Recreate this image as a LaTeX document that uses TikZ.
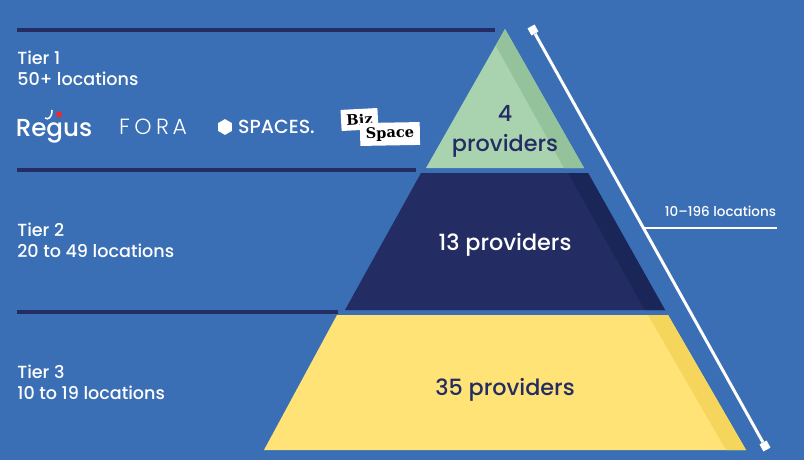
\documentclass[tikz,border=0pt]{standalone}
\usepackage{fontspec}
\usetikzlibrary{shapes.geometric}
\setmainfont{Poppins Medium}
\newfontfamily\forafont{Poppins Light}
\newfontfamily\bizfont{DejaVu Serif}
\definecolor{bluebg}{HTML}{3A6EB5}
\definecolor{navyband}{HTML}{232C63}
\definecolor{navyshade}{HTML}{1A2558}
\definecolor{greenband}{HTML}{A9D3AE}
\definecolor{greenshade}{HTML}{93C29B}
\definecolor{yellowband}{HTML}{FFE377}
\definecolor{yellowshade}{HTML}{F6D55C}
\definecolor{regusred}{HTML}{EE2A2E}
\tikzset{
  tierlabel/.style={anchor=west,align=left,text=white,font=\fontsize{10}{12.2}\selectfont,inner sep=0pt},
  bandlabel/.style={align=center,text=navyband,font=\fontsize{12.7}{17}\selectfont,inner sep=0pt},
  tierrule/.style={navyband,line width=2.1pt},
  spanrule/.style={white,line width=1.7pt},
  spanend/.style={fill=white,minimum size=4.6pt,inner sep=0pt,rotate=29},
  logotext/.style={text=white,inner sep=0pt},
  bizpatch/.style={fill=white,inner sep=0pt,text=black,font=\bizfont\bfseries\fontsize{8.3}{8.3}\selectfont}
}
\begin{document}
\begin{tikzpicture}[x=0.02cm,y=0.02cm]
      \fill [bluebg] (0,0) rectangle (804,-460);
      \useasboundingbox (0,0) rectangle (804,-460);
      % tier rules
      \coordinate (rulea1) at (17,-30);
      \coordinate (rulea2) at (495,-30);
      \coordinate (ruleb1) at (17,-170);
      \coordinate (ruleb2) at (416,-170);
      \coordinate (rulec1) at (17,-312);
      \coordinate (rulec2) at (338,-312);
      \draw [tierrule] (rulea1) -- (rulea2);
      \draw [tierrule] (ruleb1) -- (ruleb2);
      \draw [tierrule] (rulec1) -- (rulec2);
      % pyramid
      \fill [greenband] (505,-29) -- (584,-168) -- (426,-168) -- cycle;
      \fill [greenshade] (505,-29) -- (584,-168) -- (564,-168) -- (496,-46) -- cycle;
      \fill [navyband] (421,-173) -- (588,-173) -- (665,-310) -- (345,-310) -- cycle;
      \fill [navyshade] (568,-173) -- (588,-173) -- (665,-310) -- (645,-310) -- cycle;
      \fill [yellowband] (337,-315) -- (668,-315) -- (746,-450) -- (264,-450) -- cycle;
      \fill [yellowshade] (648,-315) -- (668,-315) -- (746,-450) -- (726,-450) -- cycle;
      \node [bandlabel] (provA) at (505,-131.5) {4\\providers};
      \node [bandlabel,text=white] (provB) at (505,-245) {13 providers};
      \node [bandlabel] (provC) at (505,-390) {35 providers};
      % tier text
      \node [tierlabel] (tierA) at (17,-68.5) {Tier 1\\50+ locations};
      \node [tierlabel] (tierB) at (17,-240.5) {Tier 2\\20 to 49 locations};
      \node [tierlabel] (tierC) at (17,-382.5) {Tier 3\\10 to 19 locations};
      % span of the pyramid
      \node [spanend] (spantop) at (533,-30) {};
      \node [spanend] (spanbot) at (765,-446) {};
      \coordinate (spanmid) at (644,-228);
      \coordinate (spanout) at (777,-228);
      \draw [spanrule] (spantop) -- (spanbot);
      \draw [spanrule] (spanmid) -- (spanout);
      \node [logotext,font=\fontsize{7.7}{9}\selectfont] (spanlabel) at (720.5,-211) {10--196 locations};
      % logos
      \node [logotext,font=\fontsize{14}{14}\selectfont] (regus) at (54,-131) {Regus};
      \coordinate (ticka) at (45,-118);
      \coordinate (tickc) at (52,-110);
      \draw [white,line width=0.9pt] (ticka) .. controls (48,-120) and (52,-118) .. (tickc);
      \node [circle,fill=regusred,minimum size=3.4pt,inner sep=0pt] (regusdot) at (59,-114.5) {};
      \node [logotext,font=\forafont\fontsize{12.5}{12.5}\selectfont] (fora) at (153,-127) {F\hspace{2.5pt}O\hspace{2.5pt}R\hspace{2pt}A};
      \node [regular polygon,regular polygon sides=6,shape border rotate=30,fill=white,minimum size=9pt,inner sep=0pt] (spaceshex) at (225,-127) {};
      \node [logotext,font=\fontsize{10.8}{10.8}\selectfont] (spaces) at (276.5,-127) {SPACES.};
      \node [bizpatch,rotate=3,minimum width=21pt,minimum height=12pt] (biz) at (359.5,-119.5) {Biz};
      \node [bizpatch,rotate=1,minimum width=34pt,minimum height=13pt] (bizspace) at (390,-134) {Space};
    \end{tikzpicture}
\end{document}
